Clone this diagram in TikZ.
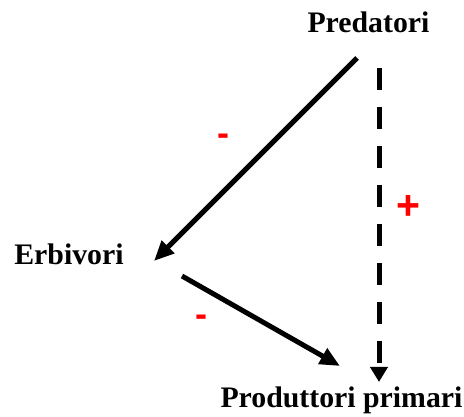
\documentclass[tikz,border=0pt]{standalone}
\usepackage{fontspec}
\setmainfont{Liberation Serif}
\newfontfamily\signfont{Liberation Sans}
\usetikzlibrary{arrows.meta}
\definecolor{signred}{RGB}{255,0,0}
\tikzset{
  lbl/.style={font=\fontsize{29.8}{32}\selectfont\bfseries, anchor=base, inner sep=0pt},
  sign/.style={font=\signfont\fontsize{36}{40}\selectfont\bfseries, text=signred, inner sep=0pt},
  bigsign/.style={sign, font=\signfont\fontsize{41}{44}\selectfont\bfseries},
  link/.style={line width=5pt, -{Triangle[length=20pt,width=17pt]}},
  dlink/.style={line width=5pt, dash pattern=on 22pt off 17pt, -{Triangle[length=15pt,width=17pt]}}
}
\begin{document}
\begin{tikzpicture}[x=1pt,y=-1pt]
\useasboundingbox (0,0) rectangle (464,417);
\node[lbl] (pred) at (368.5,33) {Predatori};
\node[lbl] (erb) at (69,265) {Erbivori};
\node[lbl] (prod) at (341.5,407) {Produttori primari};
\coordinate (a1s) at (357,58);
\coordinate (a1e) at (154,261);
\coordinate (a2s) at (182,276);
\coordinate (a2e) at (340,366);
\coordinate (a3s) at (379,68);
\coordinate (a3e) at (379,382);
\draw[link] (a1s) -- (a1e);
\draw[link] (a2s) -- (a2e);
\draw[dlink] (a3s) -- (a3e);
\node[sign] (m1) at (223,140) {-};
\node[sign] (m2) at (201,321) {-};
\node[bigsign] (p1) at (408,207) {+};
\end{tikzpicture}
\end{document}
